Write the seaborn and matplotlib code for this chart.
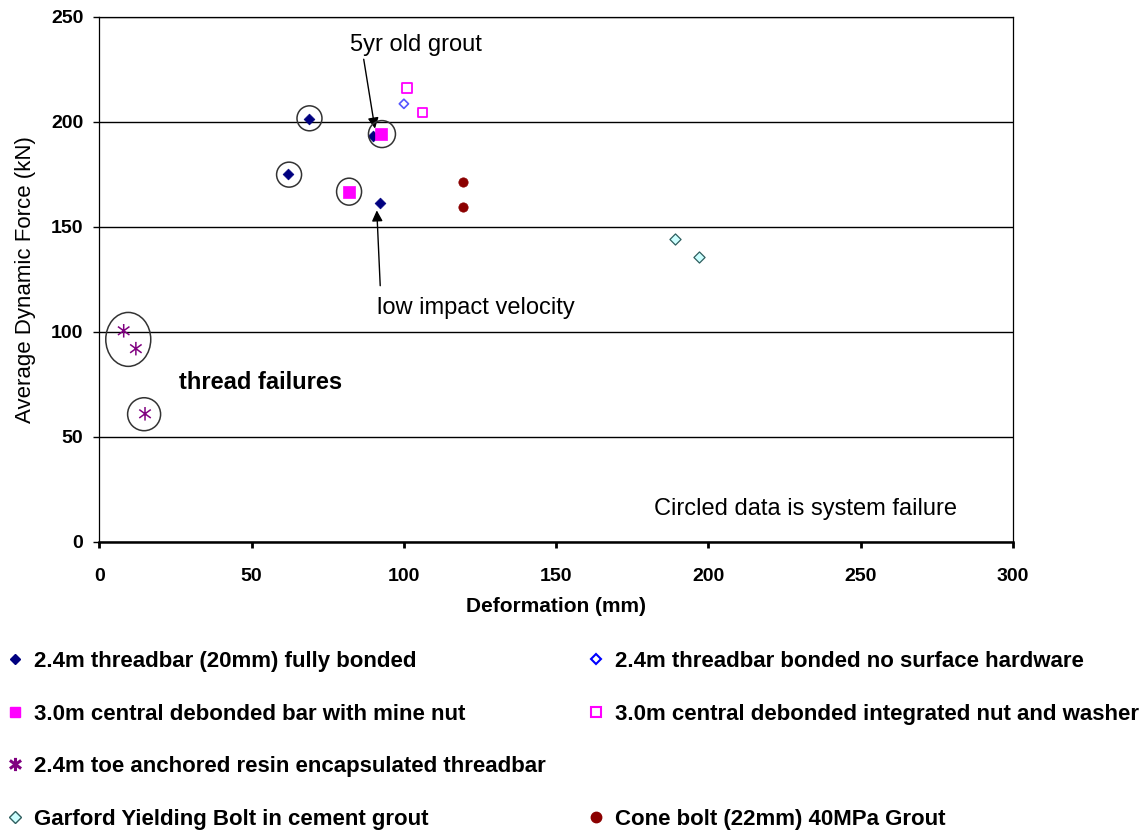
import numpy as np
import pandas as pd
import matplotlib
matplotlib.use("Agg")
import matplotlib.pyplot as plt
from matplotlib.path import Path
from matplotlib.patches import Ellipse
from matplotlib.lines import Line2D
import seaborn as sns

# ---------------- data ----------------
threadbar_x = [69, 62, 90, 92]
threadbar_y = [201.5, 175, 193, 161.5]
nohw_x = [100]
nohw_y = [208.5]
minenut_x = [82, 92.5]
minenut_y = [166.5, 194]
integrated_x = [101, 106]
integrated_y = [216, 204.5]
toe_x = [8, 12, 15]
toe_y = [100.5, 92, 61]
garford_x = [189, 197]
garford_y = [144, 135.5]
cone_x = [119.5, 119.5]
cone_y = [171.5, 159.5]

series_labels = [
    "2.4m threadbar (20mm) fully bonded",
    "2.4m threadbar bonded no surface hardware",
    "3.0m central debonded bar with mine nut",
    "3.0m central debonded integrated nut and washer",
    "2.4m toe anchored resin encapsulated threadbar",
    "Garford Yielding Bolt in cement grout",
    "Cone bolt (22mm) 40MPa Grout",
]

# circled (system failure) points: centre x, centre y
circle_x = [69, 62.3, 82, 92.8, 9.5, 14.7]
circle_y = [201.6, 174.8, 166.7, 194.1, 96.4, 60.8]

x_ticks = [0, 50, 100, 150, 200, 250, 300]
y_ticks = [0, 50, 100, 150, 200, 250]

# ---------------- style ----------------
sns.set_style("white")
plt.rcParams['font.family'] = ['Liberation Sans', 'DejaVu Sans']
plt.rcParams['text.color'] = 'black'
plt.rcParams['axes.labelcolor'] = 'black'
plt.rcParams['xtick.color'] = 'black'
plt.rcParams['ytick.color'] = 'black'

fig = plt.figure(figsize=(11.47, 8.30), dpi=100)
ax = fig.add_axes([0.0866, 0.347, 0.7966, 0.633])

star_path = Path(
    [(0, -1), (0, 1), (-0.85, -0.62), (0.85, 0.62), (-0.85, 0.62), (0.85, -0.62)],
    [Path.MOVETO, Path.LINETO, Path.MOVETO, Path.LINETO, Path.MOVETO, Path.LINETO],
)

def df(x, y):
    return pd.DataFrame({"x": x, "y": y})

NAVY = "#000080"
BLUE = "#5555ff"
MAG = "#ff00ff"
PURP = "#800080"
MAROON = "#8b0000"
CYANF = "#ccffff"
CYANE = "#2f5f5f"

sns.scatterplot(data=df(threadbar_x, threadbar_y), x="x", y="y", ax=ax, marker="D",
                s=30, color=NAVY, edgecolor=NAVY, linewidth=0.5, zorder=4, legend=False)
sns.scatterplot(data=df(nohw_x, nohw_y), x="x", y="y", ax=ax, marker="D",
                s=22, color=BLUE, facecolor="none", edgecolor=BLUE, linewidth=1.2, zorder=4, legend=False)
sns.scatterplot(data=df(minenut_x, minenut_y), x="x", y="y", ax=ax, marker="s",
                s=70, color=MAG, edgecolor=MAG, linewidth=0.5, zorder=5, legend=False)
sns.scatterplot(data=df(integrated_x, integrated_y), x="x", y="y", ax=ax, marker="s",
                s=45, color=MAG, facecolor="none", edgecolor=MAG, linewidth=1.3, zorder=4, legend=False)
sns.scatterplot(data=df(toe_x, toe_y), x="x", y="y", ax=ax, marker=star_path,
                s=95, color=PURP, facecolor="none", edgecolor=PURP, linewidth=1.1, zorder=4, legend=False)
sns.scatterplot(data=df(garford_x, garford_y), x="x", y="y", ax=ax, marker="D",
                s=32, color=CYANF, edgecolor=CYANE, linewidth=0.9, zorder=4, legend=False)
sns.scatterplot(data=df(cone_x, cone_y), x="x", y="y", ax=ax, marker="o",
                s=45, color=MAROON, edgecolor=MAROON, linewidth=0.5, zorder=4, legend=False)

# circles marking system failure (sizes in pixels -> data units)
px_per_x = 914.0 / 300.0
px_per_y = 526.0 / 250.0
circle_px = [(25, 25), (25, 25), (25, 27), (27, 27), (45, 54), (33, 33)]
for cx, cy, (w, h) in zip(circle_x, circle_y, circle_px):
    ax.add_patch(Ellipse((cx, cy), w / px_per_x, h / px_per_y, facecolor="none",
                         edgecolor="#333333", linewidth=1.1, zorder=6))

# axes
ax.set_xlim(0, 300)
ax.set_ylim(0, 250)
ax.set_xticks(x_ticks)
ax.set_yticks(y_ticks)
ax.set_xticklabels([str(v) for v in x_ticks], fontsize=14, fontweight="bold")
ax.set_yticklabels([str(v) for v in y_ticks], fontsize=14, fontweight="bold")
ax.yaxis.grid(True, color="black", linewidth=1.0)
ax.xaxis.grid(False)
ax.set_axisbelow(True)
for side in ["left", "right", "top"]:
    ax.spines[side].set_visible(True)
    ax.spines[side].set_color("black")
    ax.spines[side].set_linewidth(0.9)
ax.spines["bottom"].set_color("black")
ax.spines["bottom"].set_linewidth(1.8)
ax.tick_params(axis="y", direction="out", length=4.5, width=1.0, pad=7, left=True, color="black")
ax.tick_params(axis="x", direction="out", length=4.5, width=2.0, pad=14, bottom=True, color="black")

ax.set_xlabel("Deformation (mm)", fontsize=15, fontweight="bold", labelpad=9)
ax.set_ylabel("Average Dynamic Force (kN)", fontsize=16, labelpad=11)

# annotations
ax.annotate("5yr old grout", xy=(90.5, 196.7), xytext=(82.3, 236.5),
            fontsize=17, va="center", ha="left",
            arrowprops=dict(arrowstyle="-|>", color="black", lw=1.0, mutation_scale=16,
                            shrinkA=0, shrinkB=0, relpos=(0.1, 0.0)))
ax.annotate("low impact velocity", xy=(91.1, 157.8), xytext=(91.1, 111.2),
            fontsize=17, va="center", ha="left",
            arrowprops=dict(arrowstyle="-|>", color="black", lw=1.0, mutation_scale=16,
                            shrinkA=6, shrinkB=0, relpos=(0.02, 1.0)))
ax.text(26.2, 75.7, "thread failures", fontsize=17, fontweight="bold", va="center", ha="left")
ax.text(182, 15.9, "Circled data is system failure", fontsize=17, va="center", ha="left")

# legend in two columns
def h(marker, ms, fc, ec, mew=1.0):
    return Line2D([], [], linestyle="none", marker=marker, markersize=ms,
                  markerfacecolor=fc, markeredgecolor=ec, markeredgewidth=mew)

blank = Line2D([], [], linestyle="none", marker=None)
col1 = [h("D", 5.5, NAVY, NAVY), h("s", 7.5, MAG, MAG), h(star_path, 9.5, "none", PURP, 2.2),
        h("D", 6, CYANF, CYANE)]
col1_labels = [series_labels[0], series_labels[2], series_labels[4], series_labels[5]]
col2 = [h("D", 5.5, "none", "#0000ff", 1.5), h("s", 7, "none", MAG, 1.5), blank,
        h("o", 7.5, MAROON, MAROON)]
col2_labels = [series_labels[1], series_labels[3], " ", series_labels[6]]

leg_kw = dict(loc="upper left", frameon=False, borderpad=0, borderaxespad=0,
              handlelength=0.75, handletextpad=0.45, labelspacing=1.42,
              prop={"size": 16, "weight": "bold"})
leg1 = fig.legend(col1, col1_labels, bbox_to_anchor=(7 / 1147, 1 - 651 / 830), **leg_kw)
leg2 = fig.legend(col2, col2_labels, bbox_to_anchor=(588 / 1147, 1 - 651 / 830), **leg_kw)

fig.savefig("out.png", dpi=100)
